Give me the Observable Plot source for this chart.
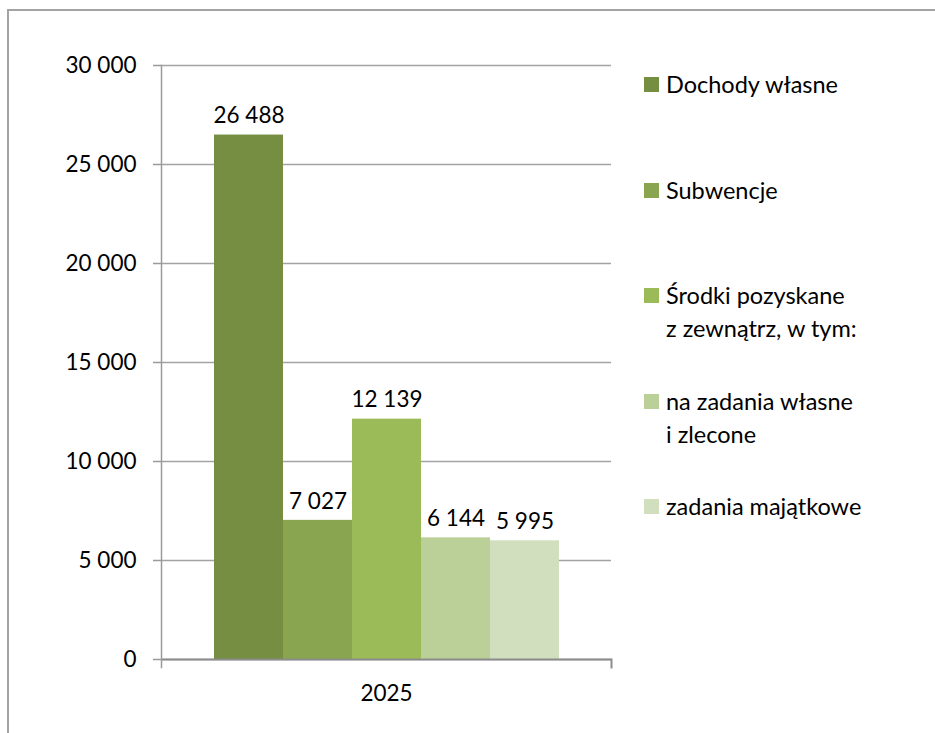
<!DOCTYPE html>
<html><head><meta charset="utf-8">
<script src="https://cdn.jsdelivr.net/npm/d3@7"></script>
<script src="https://cdn.jsdelivr.net/npm/@observablehq/plot@0.6"></script>
<style>
html,body{margin:0;padding:0;background:#fff;overflow:hidden;width:935px;height:733px;}
#wrap{position:relative;width:935px;height:733px;font-family:Lato,sans-serif;overflow:hidden;}
#border{position:absolute;left:7px;top:9px;width:2000px;height:2000px;border-left:2px solid #a3a3a3;border-top:2px solid #a3a3a3;}
#chart{position:absolute;left:0;top:0;}
#legend{position:absolute;left:644px;top:68px;}
.item{height:105.5px;display:flex;align-items:flex-start;font-size:23.5px;line-height:33px;color:#000;}
.sw{width:15px;height:15px;margin-top:9px;margin-right:7px;flex:none;}
.lbl{white-space:pre-line;}
</style></head>
<body><div id="wrap"><div id="border"></div><div id="chart"></div><div id="legend"></div></div>
<script>
const year = "2025";
const series = ["Dochody własne", "Subwencje", "Środki pozyskane\nz zewnątrz, w tym:", "na zadania własne\ni zlecone", "zadania majątkowe"];
const values = [26488, 7027, 12139, 6144, 5995];
const colors = ["#758e42", "#89a54f", "#9bbb59", "#bbd099", "#d1dfbe"];
const yTicks = [0, 5000, 10000, 15000, 20000, 25000, 30000];

const fmt = d3.formatLocale({decimal: ",", thousands: " ", grouping: [3], currency: ["", " zł"]}).format(",d");
const data = series.map((s, i) => ({year, series: s, value: values[i]}));

const W = 935, H = 733, mT = 65, mB = 74, mL = 161, mR = 324;
const plot = Plot.plot({
  width: W, height: H, marginTop: mT, marginBottom: mB, marginLeft: mL, marginRight: mR,
  style: {fontFamily: "Lato, sans-serif", fontSize: "22.5px", color: "#000", background: "transparent", overflow: "visible"},
  fx: {domain: [year], padding: 0, label: null},
  x: {domain: series, paddingInner: 0, paddingOuter: 0.74, axis: null},
  y: {domain: [0, 30000], axis: null},
  color: {domain: series, range: colors},
  marks: [
    Plot.gridY(yTicks, {stroke: "#a3a3a3", strokeOpacity: 1, strokeWidth: 1.5}),
    Plot.barY(data, {fx: "year", x: "series", y: "value", fill: "series"}),
    Plot.ruleY([0], {stroke: "#8c8c8c", strokeWidth: 2}),
    Plot.text(data, {fx: "year", x: "series", y: "value", text: d => fmt(d.value), dy: -19, lineAnchor: "middle", fill: "#000"}),
    Plot.axisY(yTicks, {anchor: "left", tickSize: 8, tickPadding: 17, tickFormat: fmt, stroke: "#9a9a9a", strokeWidth: 1.5, fill: "#000", label: null}),
    Plot.frame({anchor: "left", stroke: "#9a9a9a", strokeWidth: 1.5, insetBottom: -8}),
    Plot.frame({anchor: "right", stroke: "#8c8c8c", strokeWidth: 2, insetTop: H - mT - mB, insetBottom: -8}),
    Plot.axisFx({anchor: "bottom", tickSize: 0, tickPadding: 26, label: null, fill: "#000"})
  ]
});
document.getElementById("chart").appendChild(plot);

const legend = document.getElementById("legend");
series.forEach((s, i) => {
  const item = document.createElement("div");
  item.className = "item";
  const sw = document.createElement("div");
  sw.className = "sw";
  sw.style.background = colors[i];
  const lbl = document.createElement("div");
  lbl.className = "lbl";
  lbl.textContent = s;
  item.appendChild(sw);
  item.appendChild(lbl);
  legend.appendChild(item);
});
</script>
</body></html>
